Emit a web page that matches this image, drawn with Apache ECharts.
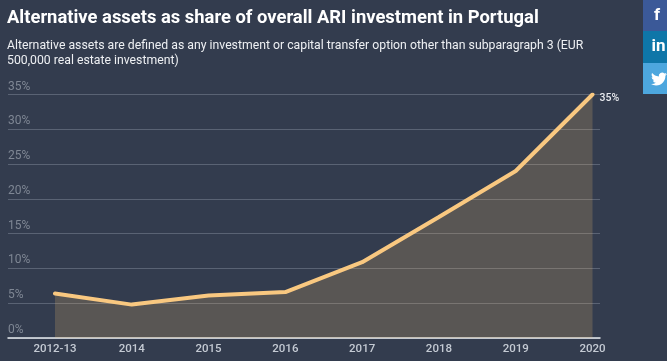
<!DOCTYPE html>
<html><head><meta charset="utf-8">
<style>html,body{margin:0;padding:0;background:#333c4e}#c{width:667px;height:361px}</style>
<script src="https://cdn.jsdelivr.net/npm/echarts@6/dist/echarts.min.js"></script>
</head><body><div id="c"></div>
<script>
const categories = ['2012-13','2014','2015','2016','2017','2018','2019','2020'];
const shareValues = [6.4,4.8,6.1,6.6,10.9,17.4,24.0,35.0];
const yTicks = {min:0,max:35,interval:5};
const titleText = 'Alternative assets as share of overall ARI investment in Portugal';
const subtitleText = 'Alternative assets are defined as any investment or capital transfer option other than subparagraph 3 (EUR\n500,000 real estate investment)';
const font = 'Roboto, sans-serif';
const birdPath = 'M23.953 4.57a10 10 0 01-2.825.775 4.958 4.958 0 002.163-2.723c-.951.555-2.005.959-3.127 1.184a4.92 4.92 0 00-8.384 4.482C7.69 8.095 4.067 6.13 1.64 3.162a4.822 4.822 0 00-.666 2.475c0 1.71.87 3.213 2.188 4.096a4.904 4.904 0 01-2.228-.616v.06a4.923 4.923 0 003.946 4.827 4.996 4.996 0 01-2.212.085 4.936 4.936 0 004.604 3.417 9.867 9.867 0 01-6.102 2.105c-.39 0-.779-.023-1.17-.067a13.995 13.995 0 007.557 2.209c9.053 0 13.998-7.496 13.998-13.985 0-.21 0-.42-.015-.63A9.935 9.935 0 0024 4.59z';
const birdSvg = 'data:image/svg+xml;utf8,' + encodeURIComponent('<svg xmlns="http://www.w3.org/2000/svg" viewBox="0 0 24 24" width="16" height="16"><path fill="#fff" d="'+birdPath+'"/></svg>');
const chart = echarts.init(document.getElementById('c'),null,{renderer:'canvas'});
function btn(y,h,color,text,size,cx){
  return {type:'group',children:[
    {type:'rect',shape:{x:643,y:y,width:24,height:h},style:{fill:color}},
    {type:'text',x:cx,y:y+h/2,style:{text:text,fill:'#fff',font:'bold '+size+'px '+font,align:'center',verticalAlign:'middle'}}
  ]};
}
chart.setOption({
  backgroundColor:'#333c4e',
  animation:false,
  title:[
    {text:titleText,left:2,top:2,textStyle:{color:'#fff',fontFamily:font,fontWeight:'bold',fontSize:18.4,lineHeight:22}},
    {text:subtitleText,left:2,top:33,textStyle:{color:'#eef0f3',fontFamily:font,fontWeight:'normal',fontSize:12.25,lineHeight:15}}
  ],
  grid:[
    {left:8,width:592,top:94.5,height:243.5},
    {left:55,width:537.5,top:94.5,height:243.5}
  ],
  xAxis:[
    {gridIndex:0,type:'category',data:categories,axisTick:{show:false},axisLabel:{show:false},axisLine:{lineStyle:{color:'#e8ebef',width:1.5}},splitLine:{show:false}},
    {gridIndex:1,type:'category',data:categories,boundaryGap:false,axisTick:{show:false},axisLine:{show:false},splitLine:{show:false},
     axisLabel:{color:'#c4cad3',fontFamily:font,fontSize:11.5,fontWeight:500,margin:5,interval:0,showMinLabel:true,showMaxLabel:true}}
  ],
  yAxis:[
    {gridIndex:0,type:'value',min:yTicks.min,max:yTicks.max,interval:yTicks.interval,axisLine:{show:false},axisTick:{show:false},
     splitLine:{lineStyle:{color:'#5a6374',width:1}},
     axisLabel:{inside:true,margin:0,color:'#7f8794',fontFamily:font,fontSize:12,verticalAlign:'bottom',padding:[0,0,2,0],formatter:'{value}%'}},
    {gridIndex:1,type:'value',min:yTicks.min,max:yTicks.max,interval:yTicks.interval,show:false}
  ],
  series:[{
    type:'line',xAxisIndex:1,yAxisIndex:1,data:shareValues,symbol:'none',smooth:false,
    lineStyle:{color:'#f9c880',width:4,cap:'round'},
    areaStyle:{color:'#f5bd6e',opacity:0.2},
    endLabel:{show:true,formatter:p=>p.value+'%',color:'#e8eaee',fontFamily:font,fontSize:10.5,fontWeight:500,distance:7,offset:[0,4]},
    z:3
  }],
  graphic:[
    btn(0,31,'#3b5998','f',17,657),
    btn(31,32,'#0e76a8','in',17,658.5),
    {type:'rect',shape:{x:643,y:63,width:24,height:31},style:{fill:'#4da7de'}},
    {type:'image',style:{image:birdSvg,x:651,y:71,width:16,height:16}}
  ]
});
</script></body></html>
